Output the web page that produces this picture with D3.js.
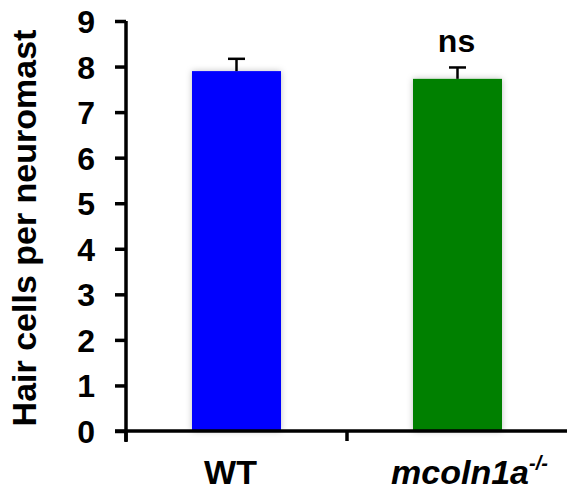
<!DOCTYPE html>
<html>
<head>
<meta charset="utf-8">
<script src="https://cdn.jsdelivr.net/npm/d3@7"></script>
<style>
  body { margin: 0; background: #fff; }
  text { font-family: "Liberation Sans", Arial, Helvetica, sans-serif; font-weight: bold; fill: #000; }
</style>
</head>
<body>
<div id="chart"></div>
<script>
// chart values
const groups = ["WT", "mcoln1a"];
const means = [7.9, 7.73];
const sems = [0.27, 0.25];
const barColors = ["#0000ff", "#008000"];
const yTicks = [0, 1, 2, 3, 4, 5, 6, 7, 8, 9];

const svgWidth = 567;
const svgHeight = 491;
const margin = { top: 21, right: 0, bottom: 60, left: 126 };
const width = svgWidth - margin.left - margin.right;
const height = svgHeight - margin.top - margin.bottom;

const svg = d3.select("#chart")
    .append("svg")
    .attr("width", svgWidth)
    .attr("height", svgHeight);

// soft shadow behind the bars
const defs = svg.append("defs");
defs.append("filter")
    .attr("id", "shadow")
    .attr("x", "-20%").attr("y", "-20%")
    .attr("width", "140%").attr("height", "140%")
    .append("feDropShadow")
    .attr("dx", 0).attr("dy", 0)
    .attr("stdDeviation", 3)
    .attr("flood-color", "#000")
    .attr("flood-opacity", 0.25);

const chartGroup = svg.append("g")
    .attr("transform", `translate(${margin.left}, ${margin.top})`);

// x positions: two groups, each half of 442 px, bars 89 px wide
const xScale = d3.scaleBand()
    .domain(groups)
    .range([0, 442]);

const yScale = d3.scaleLinear()
    .domain([0, 9])
    .range([height, 0]);

const barWidth = 89;
const centers = groups.map(g => xScale(g) + xScale.bandwidth() / 2);

// bars
chartGroup.selectAll("rect.bar")
    .data(groups)
    .enter()
    .append("rect")
    .attr("class", "bar")
    .attr("x", (d, i) => centers[i] - barWidth / 2)
    .attr("y", (d, i) => yScale(means[i]))
    .attr("width", barWidth)
    .attr("height", (d, i) => yScale(0) - yScale(means[i]))
    .attr("fill", (d, i) => barColors[i])
    .attr("filter", "url(#shadow)");

// error bars (upper only)
const errG = chartGroup.append("g")
    .attr("stroke", "#000")
    .attr("stroke-width", 2.5);

groups.forEach((g, i) => {
    errG.append("line")
        .attr("x1", centers[i]).attr("x2", centers[i])
        .attr("y1", yScale(means[i]))
        .attr("y2", yScale(means[i] + sems[i]));
    errG.append("line")
        .attr("x1", centers[i] - 8.5).attr("x2", centers[i] + 8.5)
        .attr("y1", yScale(means[i] + sems[i]))
        .attr("y2", yScale(means[i] + sems[i]));
});

// y axis
const leftAxis = d3.axisLeft(yScale)
    .tickValues(yTicks)
    .tickSize(11)
    .tickPadding(20)
    .tickFormat(d3.format("d"));

const yAxisG = chartGroup.append("g").call(leftAxis);
yAxisG.select(".domain").remove();
yAxisG.append("line")
    .attr("x1", 0).attr("x2", 0)
    .attr("y1", yScale(9)).attr("y2", yScale(0) + 11)
    .attr("stroke", "#000")
    .attr("stroke-width", 3.5);
yAxisG.selectAll(".tick line")
    .attr("stroke", "#000")
    .attr("stroke-width", 3.5);
yAxisG.selectAll(".tick text")
    .style("font-size", "32px")
    .attr("dy", "0.36em");

// x axis
const xAxisG = chartGroup.append("g")
    .attr("transform", `translate(0, ${height})`);
xAxisG.append("line")
    .attr("x1", -11).attr("x2", width)
    .attr("y1", 0).attr("y2", 0)
    .attr("stroke", "#000")
    .attr("stroke-width", 3.5);
xAxisG.selectAll("line.xtick")
    .data(groups)
    .enter()
    .append("line")
    .attr("class", "xtick")
    .attr("x1", d => xScale(d)).attr("x2", d => xScale(d))
    .attr("y1", 0).attr("y2", 10)
    .attr("stroke", "#000")
    .attr("stroke-width", 3.5);

// x labels
chartGroup.append("text")
    .attr("x", centers[0] - 6)
    .attr("y", height + 53)
    .attr("text-anchor", "middle")
    .style("font-size", "34px")
    .text("WT");

const mutLabel = chartGroup.append("text")
    .attr("x", centers[1] + 12)
    .attr("y", height + 53)
    .attr("text-anchor", "middle")
    .style("font-size", "34px")
    .style("font-style", "italic");
mutLabel.append("tspan").text("mcoln1a");
mutLabel.append("tspan")
    .attr("dy", -14)
    .style("font-size", "20px")
    .text("-/-");

// significance label
chartGroup.append("text")
    .attr("x", centers[1] - 1)
    .attr("y", 31)
    .attr("text-anchor", "middle")
    .style("font-size", "32px")
    .text("ns");

// y axis title
svg.append("text")
    .attr("transform", "rotate(-90)")
    .attr("x", -228)
    .attr("y", 36)
    .attr("text-anchor", "middle")
    .style("font-size", "34px")
    .text("Hair cells per neuromast");
</script>
</body>
</html>
